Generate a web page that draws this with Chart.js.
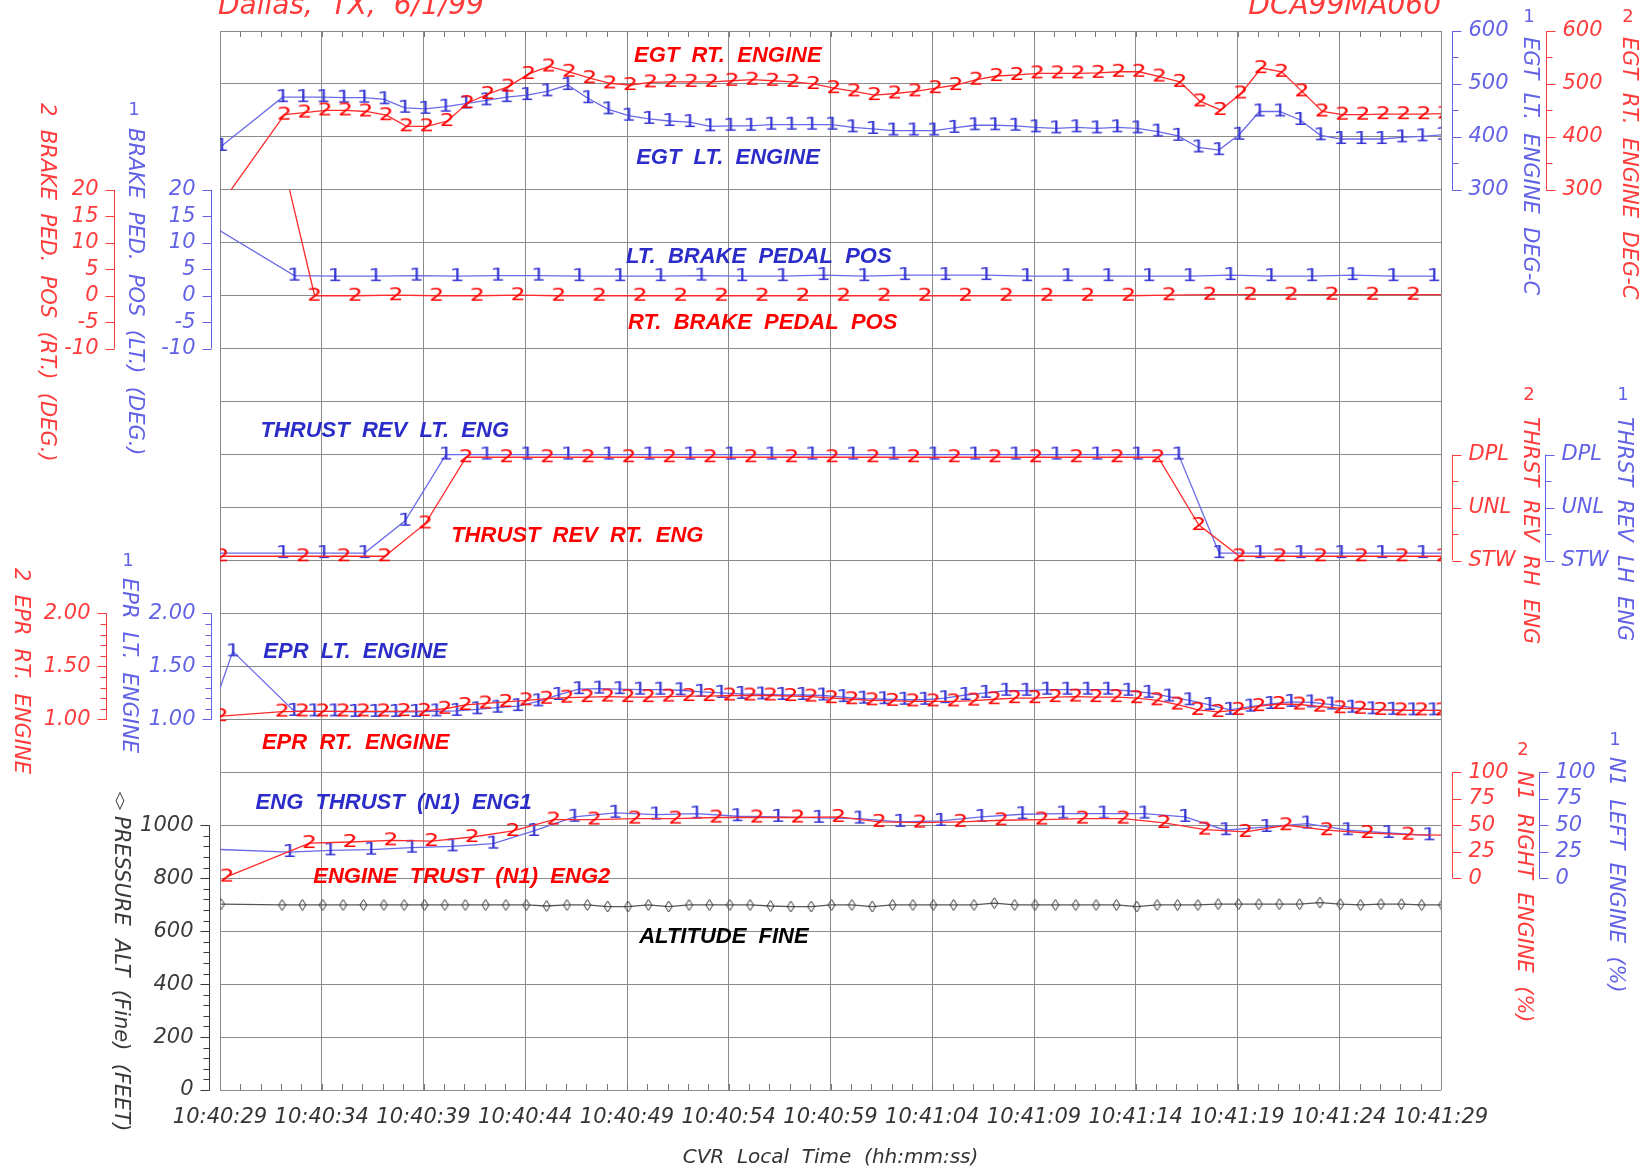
<!DOCTYPE html>
<html>
<head>
<meta charset="utf-8">
<title>Dallas, TX, 6/1/99 - DCA99MA060</title>
<script src="https://cdn.jsdelivr.net/npm/chart.js@4.4.1/dist/chart.umd.min.js"></script>
<style>
  html, body { margin: 0; padding: 0; background: #fff; }
  #wrap { width: 1640px; height: 1170px; }
</style>
</head>
<body>
<div id="wrap"><canvas id="fdr" width="1640" height="1170"></canvas></div>
<script>
// x axis is seconds after 10:40:29 (CVR local time)
const timeLabels = ['10:40:29', '10:40:34', '10:40:39', '10:40:44', '10:40:49', '10:40:54', '10:40:59',
  '10:41:04', '10:41:09', '10:41:14', '10:41:19', '10:41:24', '10:41:29'];

// tick labels of the side axes
const egtTicks = [300, 400, 500, 600];
const brakeTicks = [-10, -5, 0, 5, 10, 15, 20];
const revTicks = ['STW', 'UNL', 'DPL'];
const eprTicks = [1.0, 1.5, 2.0];
const n1Ticks = [0, 25, 50, 75, 100];
const altTicks = [0, 200, 400, 600, 800, 1000];

// recorder sample times (s); words arrive at a fixed rate, with a dropout around 1-2 s
function sampleTimes(first, step, last) {
  const out = [];
  for (let i = 0; first + i * step <= last + 1e-6; i++) out.push(Math.round((first + i * step) * 100) / 100);
  return out;
}

// EGT (deg C)
const egtLtTime = [0.08].concat(sampleTimes(3.08, 1, 60.08));
const egtLtVal = [383,
  475, 475, 475, 474, 474, 471, 455, 453, 457, 463,
  469, 475, 479, 486, 498, 473, 452, 440, 434, 430,
  428, 420, 421, 421, 423, 423, 423, 423, 418, 415,
  412, 412, 412, 417, 422, 422, 421, 418, 416, 418,
  416, 418, 416, 410, 402, 380, 375, 404, 448, 448,
  432, 403, 396, 396, 396, 399, 401, 404];
const egtRtTime = [0.54].concat(sampleTimes(3.17, 1, 60.17));
const egtRtVal = [300,
  442, 446, 450, 450, 448, 441, 420, 420, 430, 464,
  481, 495, 519, 533, 523, 511, 501, 498, 503, 504,
  504, 504, 506, 508, 506, 504, 500, 492, 486, 479,
  482, 486, 492, 498, 508, 515, 517, 520, 520, 520,
  521, 523, 523, 514, 504, 467, 451, 482, 530, 523,
  486, 448, 442, 442, 443, 443, 443, 444];

// brake pedal position (deg)
const brakeLtTime = [-0.35].concat(sampleTimes(3.65, 2, 59.65));
const brakeLtVal = [13.1,
  3.8, 3.7, 3.7, 3.8, 3.7, 3.8, 3.8, 3.7, 3.7, 3.7,
  3.8, 3.7, 3.7, 3.9, 3.7, 3.9, 3.9, 3.9, 3.7, 3.7,
  3.7, 3.7, 3.7, 3.9, 3.7, 3.7, 3.9, 3.7, 3.7];
const brakeRtTime = [3.42].concat(sampleTimes(4.65, 2, 60.65));
const brakeRtVal = [20,
  0, 0, 0.1, 0, 0, 0.1, 0, 0, 0, 0,
  0, 0, 0, 0, 0, 0, 0, 0, 0, 0,
  0, 0.1, 0.2, 0.2, 0.2, 0.2, 0.2, 0.2, 0.2];

// thrust reverser position: 0 = STW, 1 = UNL, 2 = DPL
const revLtTime = [-0.9].concat(sampleTimes(3.1, 2, 61.1));
const revLtVal = [0.14,
  0.14, 0.14, 0.14, 0.75, 2, 2, 2, 2, 2, 2,
  2, 2, 2, 2, 2, 2, 2, 2, 2, 2,
  2, 2, 2, 0.14, 0.14, 0.14, 0.14, 0.14, 0.14, 0.14];
const revRtTime = [0.1].concat(sampleTimes(4.1, 2, 60.1));
const revRtVal = [0.08,
  0.08, 0.08, 0.08, 0.7, 1.95, 1.95, 1.95, 1.95, 1.95, 1.95,
  1.95, 1.95, 1.95, 1.95, 1.95, 1.95, 1.95, 1.95, 1.95, 1.95,
  1.95, 1.95, 0.67, 0.08, 0.08, 0.08, 0.08, 0.08, 0.08];

// EPR
const eprLtTime = [-0.37, 0.63].concat(sampleTimes(3.63, 1, 60.63));
const eprLtVal = [1.09, 1.642,
  1.08, 1.075, 1.075, 1.07, 1.07, 1.07, 1.07, 1.075, 1.08, 1.095,
  1.11, 1.125, 1.17, 1.23, 1.285, 1.29, 1.285, 1.28, 1.28, 1.275,
  1.26, 1.25, 1.24, 1.235, 1.23, 1.23, 1.225, 1.21, 1.195, 1.19,
  1.185, 1.185, 1.2, 1.23, 1.25, 1.27, 1.27, 1.28, 1.28, 1.28,
  1.28, 1.27, 1.25, 1.215, 1.18, 1.136, 1.09, 1.12, 1.145, 1.165,
  1.16, 1.14, 1.11, 1.095, 1.09, 1.085, 1.085, 1.085];
const eprRtTime = [0.06].concat(sampleTimes(3.06, 1, 60.06));
const eprRtVal = [1.03,
  1.073, 1.075, 1.075, 1.075, 1.075, 1.075, 1.078, 1.08, 1.1, 1.136,
  1.15, 1.165, 1.18, 1.195, 1.205, 1.21, 1.215, 1.21, 1.21, 1.215,
  1.22, 1.22, 1.225, 1.225, 1.225, 1.22, 1.215, 1.2, 1.19, 1.18,
  1.175, 1.17, 1.17, 1.17, 1.177, 1.19, 1.2, 1.2, 1.21, 1.215,
  1.21, 1.21, 1.2, 1.18, 1.14, 1.09, 1.07, 1.09, 1.125, 1.145,
  1.14, 1.12, 1.105, 1.1, 1.09, 1.085, 1.085, 1.085];

// N1 (%)
const n1LtTime = [-0.58].concat(sampleTimes(3.42, 2, 59.42));
const n1LtVal = [27.5,
  24.7, 26.3, 26.9, 28.8, 30.1, 32.6, 44.6, 58, 61.7, 60.1,
  61, 58.5, 57.9, 57, 56.3, 53.2, 54.1, 57.9, 60.4, 61,
  61, 61, 57.9, 45.3, 48.4, 51.6, 45.3, 42.7, 40.5];
const n1RtTime = [0.35].concat(sampleTimes(4.4, 2, 60.4));
const n1RtVal = [1.5,
  33.2, 34.2, 35.8, 35.1, 38.9, 44.6, 55.4, 55.4, 56.3, 56.3,
  57.3, 57.3, 57.3, 57.9, 53.2, 52.5, 53.2, 54.7, 55.4, 56.3,
  56.3, 52.2, 45.9, 43.7, 50, 45.3, 42.7, 41.1, 40.5];

// pressure altitude, fine (ft)
const altTime = [0.05].concat(sampleTimes(3.05, 1, 60.05));
const altVal = [702,
  699, 699, 699, 699, 699, 699, 699, 699, 699, 699,
  699, 699, 699, 695, 699, 699, 693, 693, 699, 693,
  699, 699, 699, 699, 695, 693, 693, 699, 699, 693,
  699, 699, 699, 699, 699, 706, 699, 699, 699, 699,
  699, 699, 693, 699, 699, 699, 702, 702, 702, 702,
  702, 708, 702, 699, 702, 702, 699, 699];

// ---- styling ----
const BLUE_LINE = '#6a6ae8', BLUE_MARK = '#3636d4', BLUE_AXIS = '#6262e6', BLUE_TEXT = '#2c2cc8';
const RED_LINE = '#ff2b2b', RED_MARK = '#ff0000', RED_AXIS = '#ff3c3c', RED_TEXT = '#ff0000';
const ALT_LINE = '#555', ALT_AXIS = '#3a3a3a';
const GRID = '#8a8a8a';
const THIN = '"DejaVu Sans", sans-serif';
const BOLD = '"Liberation Sans", Arial, sans-serif';

// plotter-style digit used as the point symbol (drawn a bit wide, like the stroke font)
function glyph(ch, color) {
  const c = document.createElement('canvas');
  c.width = 18; c.height = 20;
  const g = c.getContext('2d');
  g.fillStyle = color;
  g.font = '18px ' + THIN;
  g.textAlign = 'center';
  g.textBaseline = 'middle';
  g.translate(9, 10.5);
  g.scale(1.3, 1);
  g.fillText(ch, 0, 0);
  return c;
}
function diamond(color) {
  const c = document.createElement('canvas');
  c.width = 9; c.height = 13;
  const g = c.getContext('2d');
  g.strokeStyle = color; g.lineWidth = 1;
  g.beginPath();
  g.moveTo(4.5, 1); g.lineTo(8, 6.5); g.lineTo(4.5, 12); g.lineTo(1, 6.5); g.closePath();
  g.stroke();
  return c;
}
const mark1 = glyph('1', BLUE_MARK), mark2 = glyph('2', RED_MARK), markD = diamond('#333');

function series(label, times, values, yAxisID, color, marker, hideFirst) {
  return {
    label: label,
    yAxisID: yAxisID,
    data: times.map((t, i) => ({ x: t, y: values[i] })),
    borderColor: color,
    backgroundColor: color,
    borderWidth: 1.3,
    tension: 0,
    fill: false,
    pointStyle: marker,
    pointRadius: hideFirst ? (c => c.dataIndex === 0 ? 0 : 3) : 3,
    pointHoverRadius: 3
  };
}

// y scales: each panel keeps its own units, laid over the 20 grid bands
const panelScale = (min, max) => ({ type: 'linear', min: min, max: max, display: false });

function minorSteps(lo, hi, step) {
  const out = [];
  for (let v = lo; v <= hi + 1e-9; v += step) out.push(Math.round(v * 1000) / 1000);
  return out;
}

const sideAxes = [
  { scale: 'yEgt', side: 'right', off: 11, color: BLUE_AXIS, lo: 300, hi: 600, major: egtTicks, minor: minorSteps(300, 600, 50),
    fmt: v => String(v), title: 'EGT  LT.  ENGINE  DEG-C', tx: 1529, ty: 37, tag: '1', tagY: 17 },
  { scale: 'yEgt', side: 'right', off: 105, color: RED_AXIS, lo: 300, hi: 600, major: egtTicks, minor: minorSteps(300, 600, 50),
    fmt: v => String(v), title: 'EGT  RT.  ENGINE  DEG-C', tx: 1628, ty: 37, tag: '2', tagY: 17 },
  { scale: 'yBrake', side: 'left', off: 9, color: BLUE_AXIS, lo: -10, hi: 20, major: brakeTicks, minor: [],
    fmt: v => String(v), title: 'BRAKE  PED.  POS  (LT.)  (DEG.)', tx: 134, ty: 128, tag: '1', tagY: 110 },
  { scale: 'yBrake', side: 'left', off: 106, color: RED_AXIS, lo: -10, hi: 20, major: brakeTicks, minor: [],
    fmt: v => String(v), title: '2  BRAKE  PED.  POS  (RT.)  (DEG.)', tx: 46, ty: 103 },
  { scale: 'yRev', side: 'right', off: 11, color: RED_AXIS, lo: 0, hi: 2, major: [0, 1, 2], minor: [0.5, 1.5],
    fmt: v => revTicks[v], title: 'THRST  REV  RH  ENG', tx: 1529, ty: 417, tag: '2', tagY: 395 },
  { scale: 'yRev', side: 'right', off: 104, color: BLUE_AXIS, lo: 0, hi: 2, major: [0, 1, 2], minor: [0.5, 1.5],
    fmt: v => revTicks[v], title: 'THRST  REV  LH  ENG', tx: 1623, ty: 417, tag: '1', tagY: 395 },
  { scale: 'yEpr', side: 'left', off: 9, color: BLUE_AXIS, lo: 1, hi: 2, major: eprTicks, minor: minorSteps(1, 2, 0.1),
    fmt: v => v.toFixed(2), title: 'EPR  LT.  ENGINE', tx: 128, ty: 578, tag: '1', tagY: 561 },
  { scale: 'yEpr', side: 'left', off: 114, color: RED_AXIS, lo: 1, hi: 2, major: eprTicks, minor: minorSteps(1, 2, 0.1),
    fmt: v => v.toFixed(2), title: '2  EPR  RT.  ENGINE', tx: 20, ty: 568 },
  { scale: 'yN1', side: 'right', off: 11, color: RED_AXIS, lo: 0, hi: 100, major: n1Ticks, minor: [],
    fmt: v => String(v), title: 'N1  RIGHT  ENGINE  (%)', tx: 1523, ty: 771, tag: '2', tagY: 750 },
  { scale: 'yN1', side: 'right', off: 98, color: BLUE_AXIS, lo: 0, hi: 100, major: n1Ticks, minor: [],
    fmt: v => String(v), title: 'N1  LEFT  ENGINE  (%)', tx: 1615, ty: 757, tag: '1', tagY: 740 },
  { scale: 'yAlt', side: 'left', off: 11, color: ALT_AXIS, lo: 0, hi: 1000, major: altTicks, minor: minorSteps(0, 1000, 40),
    fmt: v => String(v), title: 'PRESSURE  ALT  (Fine)  (FEET)', tx: 120, ty: 816, tag: '\u25CA', tagY: 801 }
];

// trace names, placed in (seconds, grid band)
const traceLabels = [
  { text: 'EGT  RT.  ENGINE', color: RED_TEXT, t: 20.35, band: 0.48 },
  { text: 'EGT  LT.  ENGINE', color: BLUE_TEXT, t: 20.45, band: 2.4 },
  { text: 'LT.  BRAKE  PEDAL  POS', color: BLUE_TEXT, t: 19.95, band: 4.27 },
  { text: 'RT.  BRAKE  PEDAL  POS', color: RED_TEXT, t: 20.05, band: 5.51 },
  { text: 'THRUST  REV  LT.  ENG', color: BLUE_TEXT, t: 1.99, band: 7.56 },
  { text: 'THRUST  REV  RT.  ENG', color: RED_TEXT, t: 11.36, band: 9.53 },
  { text: 'EPR  LT.  ENGINE', color: BLUE_TEXT, t: 2.13, band: 11.72 },
  { text: 'EPR  RT.  ENGINE', color: RED_TEXT, t: 2.06, band: 13.44 },
  { text: 'ENG  THRUST  (N1)  ENG1', color: BLUE_TEXT, t: 1.75, band: 14.57 },
  { text: 'ENGINE  TRUST  (N1)  ENG2', color: RED_TEXT, t: 4.58, band: 15.98 },
  { text: 'ALTITUDE  FINE', color: '#000', t: 20.6, band: 17.1 }
];

const decor = {
  id: 'decor',
  afterDraw(chart) {
    const ctx = chart.ctx;
    const area = chart.chartArea;
    const xs = chart.scales.x;
    const bs = chart.scales.band;

    // one-second ticks along top and bottom edges
    ctx.save();
    ctx.strokeStyle = '#777';
    ctx.lineWidth = 1;
    ctx.beginPath();
    for (let s = 1; s < 60; s++) {
      const px = Math.round(xs.getPixelForValue(s)) + 0.5;
      ctx.moveTo(px, area.top); ctx.lineTo(px, area.top + 6);
      ctx.moveTo(px, area.bottom); ctx.lineTo(px, area.bottom - 6);
    }
    ctx.stroke();

    // side axes, each spanning only its own panel
    sideAxes.forEach(a => {
      const sc = chart.scales[a.scale];
      const dir = a.side === 'left' ? -1 : 1;
      const x0 = Math.round(a.side === 'left' ? area.left - a.off : area.right + a.off) + 0.5;
      ctx.strokeStyle = a.color;
      ctx.fillStyle = a.color;
      ctx.lineWidth = 1;
      ctx.beginPath();
      ctx.moveTo(x0, sc.getPixelForValue(a.hi));
      ctx.lineTo(x0, sc.getPixelForValue(a.lo));
      a.minor.forEach(v => {
        const y = Math.round(sc.getPixelForValue(v)) + 0.5;
        ctx.moveTo(x0, y); ctx.lineTo(x0 + dir * 6, y);
      });
      a.major.forEach((v, i) => {
        const val = typeof v === 'number' ? v : i;
        const y = Math.round(sc.getPixelForValue(val)) + 0.5;
        ctx.moveTo(x0, y); ctx.lineTo(x0 + dir * 9, y);
      });
      ctx.stroke();
      ctx.font = 'italic 21px ' + THIN;
      ctx.textBaseline = 'middle';
      ctx.textAlign = dir < 0 ? 'right' : 'left';
      a.major.forEach((v, i) => {
        const val = typeof v === 'number' ? v : i;
        ctx.fillText(a.fmt(val), x0 + dir * 16, sc.getPixelForValue(val));
      });
      // rotated title
      ctx.save();
      ctx.translate(a.tx, a.ty);
      ctx.rotate(Math.PI / 2);
      ctx.textAlign = 'left';
      ctx.fillText(a.title, 0, 0);
      ctx.restore();
      if (a.tag) {
        ctx.textAlign = 'center';
        ctx.font = '18px ' + THIN;
        ctx.fillText(a.tag, a.tx, a.tagY);
      }
    });

    // trace names
    ctx.font = 'italic bold 22px ' + BOLD;
    ctx.textAlign = 'left';
    ctx.textBaseline = 'middle';
    traceLabels.forEach(l => {
      ctx.fillStyle = l.color;
      ctx.fillText(l.text, xs.getPixelForValue(l.t), bs.getPixelForValue(l.band));
    });

    // header
    ctx.fillStyle = '#ff3a3a';
    ctx.font = 'italic 28px ' + THIN;
    ctx.textBaseline = 'alphabetic';
    ctx.textAlign = 'left';
    ctx.fillText('Dallas,  TX,  6/1/99', area.left - 2, 14);
    ctx.textAlign = 'right';
    ctx.fillText('DCA99MA060', area.right, 14);
    ctx.restore();
  }
};

new Chart(document.getElementById('fdr'), {
  type: 'line',
  data: {
    datasets: [
      series('EGT RT. ENGINE', egtRtTime, egtRtVal, 'yEgt', RED_LINE, mark2, true),
      series('EGT LT. ENGINE', egtLtTime, egtLtVal, 'yEgt', BLUE_LINE, mark1, false),
      series('RT. BRAKE PEDAL POS', brakeRtTime, brakeRtVal, 'yBrake', RED_LINE, mark2, true),
      series('LT. BRAKE PEDAL POS', brakeLtTime, brakeLtVal, 'yBrake', BLUE_LINE, mark1, false),
      series('THRUST REV RT. ENG', revRtTime, revRtVal, 'yRev', RED_LINE, mark2, false),
      series('THRUST REV LT. ENG', revLtTime, revLtVal, 'yRev', BLUE_LINE, mark1, false),
      series('EPR RT. ENGINE', eprRtTime, eprRtVal, 'yEpr', RED_LINE, mark2, false),
      series('EPR LT. ENGINE', eprLtTime, eprLtVal, 'yEpr', BLUE_LINE, mark1, false),
      series('ENGINE TRUST (N1) ENG2', n1RtTime, n1RtVal, 'yN1', RED_LINE, mark2, false),
      series('ENG THRUST (N1) ENG1', n1LtTime, n1LtVal, 'yN1', BLUE_LINE, mark1, false),
      series('ALTITUDE FINE', altTime, altVal, 'yAlt', ALT_LINE, markD, false)
    ]
  },
  options: {
    responsive: false,
    devicePixelRatio: 1,
    animation: false,
    layout: { padding: { left: 220, right: 199, top: 31, bottom: 0 } },
    plugins: { legend: { display: false }, tooltip: { enabled: false } },
    scales: {
      x: {
        type: 'linear', position: 'bottom', min: 0, max: 60,
        afterFit: s => { s.height = 80; },
        grid: { color: GRID, lineWidth: 1, drawTicks: false },
        border: { display: false },
        ticks: {
          stepSize: 5, autoSkip: false, maxRotation: 0, padding: 15, color: '#333',
          font: { family: THIN, size: 21, style: 'italic' },
          callback: v => timeLabels[Math.round(v / 5)] || ''
        },
        title: {
          display: true, text: 'CVR  Local  Time  (hh:mm:ss)', color: '#333',
          font: { family: THIN, size: 20, style: 'italic' }, padding: { top: 0, bottom: 0 }
        }
      },
      band: {
        type: 'linear', position: 'left', min: 0, max: 20, reverse: true,
        afterFit: s => { s.width = 0; },
        grid: { color: GRID, lineWidth: 1, drawTicks: false },
        border: { display: false },
        ticks: { stepSize: 1, display: false }
      },
      // value at the top edge / bottom edge of the plot for each panel
      yEgt: panelScale(-1400, 600),
      yBrake: panelScale(-150, 50),
      yRev: panelScale(-10, 10),
      yEpr: panelScale(-2.5, 7.5),
      yN1: panelScale(-200, 800),
      yAlt: panelScale(0, 4000)
    }
  },
  plugins: [decor]
});
</script>
</body>
</html>
